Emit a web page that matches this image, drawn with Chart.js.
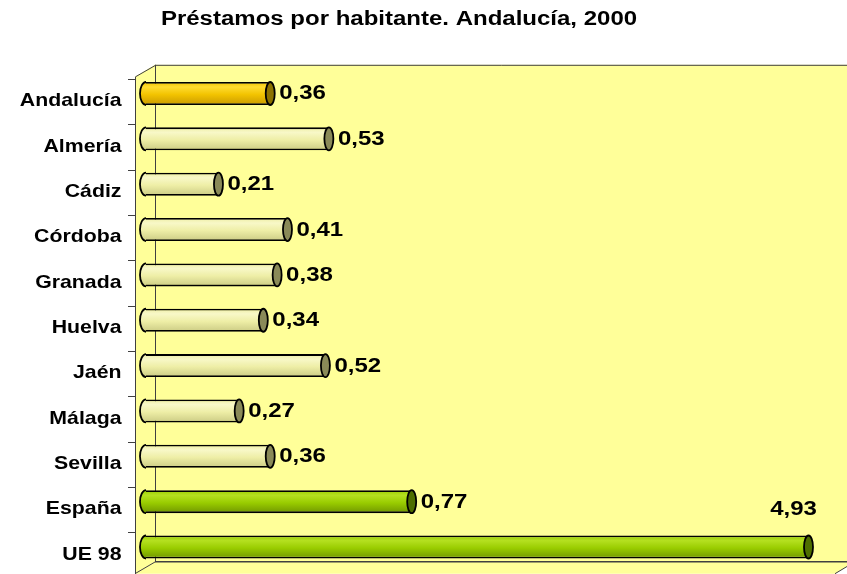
<!DOCTYPE html>
<html>
<head>
<meta charset="utf-8">
<script src="https://cdn.jsdelivr.net/npm/chart.js@4.4.0/dist/chart.umd.min.js"></script>
<style>
  html, body { margin: 0; padding: 0; background: #fff; }
  #wrap { width: 847px; height: 574px; }
</style>
</head>
<body>
<div id="wrap"><canvas id="prestamos-chart"></canvas></div>
<script>
const titleText = 'Préstamos por habitante. Andalucía, 2000';
const categories = ['Andalucía', 'Almería', 'Cádiz', 'Córdoba', 'Granada', 'Huelva',
  'Jaén', 'Málaga', 'Sevilla', 'España', 'UE 98'];
const values = [0.36, 0.53, 0.21, 0.41, 0.38, 0.34, 0.52, 0.27, 0.36, 0.77, 4.93];
// the axis stops short of UE 98, so that bar runs off the plot like in the original
const axisMax = 1.92;

// styling
const FONT = '"Liberation Sans", Arial, sans-serif';
const WALL = '#FFFF99';
const LINE = '#404040';
const BAR_H = 23;
const palettes = {
  gold:  { top: '#FFDC30', mid: '#F2C300', bot: '#C99A00', cap: '#8C7200' },
  pale:  { top: '#F8F8C8', mid: '#EEEEA6', bot: '#CBCB84', cap: '#8A8A58' },
  green: { top: '#B4E020', mid: '#99CC00', bot: '#709600', cap: '#4E6E00' },
};
const barStyle = ['gold', 'pale', 'pale', 'pale', 'pale', 'pale', 'pale', 'pale', 'pale', 'green', 'green'];

const fmt = v => v.toFixed(2).replace('.', ',');

function shade(ctx, p, cy) {
  const g = ctx.createLinearGradient(0, cy - BAR_H / 2, 0, cy + BAR_H / 2);
  g.addColorStop(0, p.mid);
  g.addColorStop(0.22, p.top);
  g.addColorStop(0.55, p.mid);
  g.addColorStop(1, p.bot);
  return g;
}

function bodyFill(c) {
  const chart = c.chart;
  if (!chart.chartArea || c.dataIndex === undefined) return palettes.pale.mid;
  const cy = chart.scales.y.getPixelForValue(c.dataIndex);
  return shade(chart.ctx, palettes[barStyle[c.dataIndex]], cy);
}

// text a bit wider than tall, like the original export
function stretchedText(ctx, text, x, y, font, align, sx) {
  ctx.save();
  ctx.translate(x, y);
  ctx.scale(sx, 1);
  ctx.font = font;
  ctx.textAlign = align;
  ctx.textBaseline = 'middle';
  ctx.fillStyle = '#000';
  ctx.fillText(text, 0, 0);
  ctx.restore();
}

const wallsPlugin = {
  id: 'walls',
  beforeDraw(chart) {
    const { ctx, chartArea: ca, width, height } = chart;
    const frontX = ca.left - 11, backX = ca.left + 9;
    const backTop = ca.top - 6, frontTop = backTop + 12;
    const floorY = ca.bottom - 8, frontBottom = floorY + 12;
    ctx.save();
    ctx.fillStyle = '#fff';
    ctx.fillRect(0, 0, width, height);

    ctx.fillStyle = WALL;
    ctx.fillRect(backX, backTop, width + 10 - backX, floorY - backTop);
    ctx.beginPath();
    ctx.moveTo(frontX, frontTop);
    ctx.lineTo(backX, backTop);
    ctx.lineTo(backX, floorY);
    ctx.lineTo(frontX, frontBottom);
    ctx.closePath();
    ctx.fill();
    ctx.beginPath();
    ctx.moveTo(frontX, frontBottom);
    ctx.lineTo(backX, floorY);
    ctx.lineTo(width + 8, floorY);
    ctx.lineTo(width - 12, frontBottom);
    ctx.closePath();
    ctx.fill();

    ctx.strokeStyle = LINE;
    ctx.lineWidth = 1;
    ctx.beginPath();
    ctx.moveTo(frontX + 0.5, frontBottom + 2);
    ctx.lineTo(frontX + 0.5, frontTop);
    ctx.lineTo(backX + 0.5, backTop + 0.5);
    ctx.lineTo(width + 2, backTop + 0.5);
    ctx.moveTo(backX + 0.5, backTop);
    ctx.lineTo(backX + 0.5, floorY);
    ctx.moveTo(frontX, frontBottom);
    ctx.lineTo(backX + 0.5, floorY);
    ctx.moveTo(width + 8, floorY);
    ctx.lineTo(width - 12, frontBottom);
    ctx.stroke();
    ctx.lineWidth = 1.6;
    ctx.beginPath();
    ctx.moveTo(backX, floorY);
    ctx.lineTo(width + 2, floorY);
    ctx.stroke();

    // category ticks on the front edge
    const step = (ca.bottom - ca.top) / categories.length;
    ctx.lineWidth = 1;
    ctx.beginPath();
    for (let k = 0; k <= categories.length; k++) {
      const ty = Math.round(ca.top + k * step + 8) + 0.5;
      ctx.moveTo(frontX - 7, ty);
      ctx.lineTo(frontX, ty);
    }
    ctx.stroke();
    ctx.restore();
  },
  afterDatasetsDraw(chart) {
    const { ctx, chartArea: ca } = chart;
    const meta = chart.getDatasetMeta(0);
    ctx.save();
    meta.data.forEach((el, i) => {
      const p = palettes[barStyle[i]];
      const h = el.height / 2;
      const xr = Math.min(el.x, ca.right);
      // rounded start
      ctx.beginPath();
      ctx.ellipse(el.base, el.y, 6, h, 0, Math.PI / 2, Math.PI * 1.5);
      ctx.fillStyle = shade(ctx, p, el.y);
      ctx.fill();
      ctx.lineWidth = 1.8;
      ctx.strokeStyle = '#000';
      ctx.stroke();
      // end face
      ctx.beginPath();
      ctx.ellipse(xr, el.y, 4.5, h, 0, 0, Math.PI * 2);
      ctx.fillStyle = p.cap;
      ctx.fill();
      ctx.stroke();

      const label = fmt(values[i]);
      const font = 'bold 20px ' + FONT;
      if (el.x > ca.right) {
        stretchedText(ctx, label, xr - 15, el.y - 37.5, font, 'center', 1.2);
      } else {
        stretchedText(ctx, label, xr + 9, el.y + 0.5, font, 'left', 1.2);
      }
      stretchedText(ctx, categories[i], 121.5, el.y + 7.5, 'bold 19px ' + FONT, 'right', 1.12);
    });
    ctx.restore();
  },
  afterDraw(chart) {
    stretchedText(chart.ctx, titleText, 399, 19, 'bold 20px ' + FONT, 'center', 1.2);
  }
};

const chart = new Chart(document.getElementById('prestamos-chart'), {
  type: 'bar',
  data: {
    labels: categories,
    datasets: [{
      data: values,
      backgroundColor: bodyFill,
      borderColor: '#000',
      borderWidth: 1.8,
      borderSkipped: 'left',
      barPercentage: BAR_H / 45.35,
      categoryPercentage: 1,
      clip: 0,
    }],
  },
  options: {
    indexAxis: 'y',
    responsive: true,
    maintainAspectRatio: false,
    animation: false,
    layout: { padding: { left: 146, right: 38.5, top: 70.8, bottom: 4.3 } },
    scales: {
      x: { display: false, min: 0, max: axisMax },
      y: { display: false },
    },
    plugins: {
      legend: { display: false },
      title: { display: false },
      tooltip: { enabled: false },
    },
  },
  plugins: [wallsPlugin],
});
</script>
</body>
</html>
